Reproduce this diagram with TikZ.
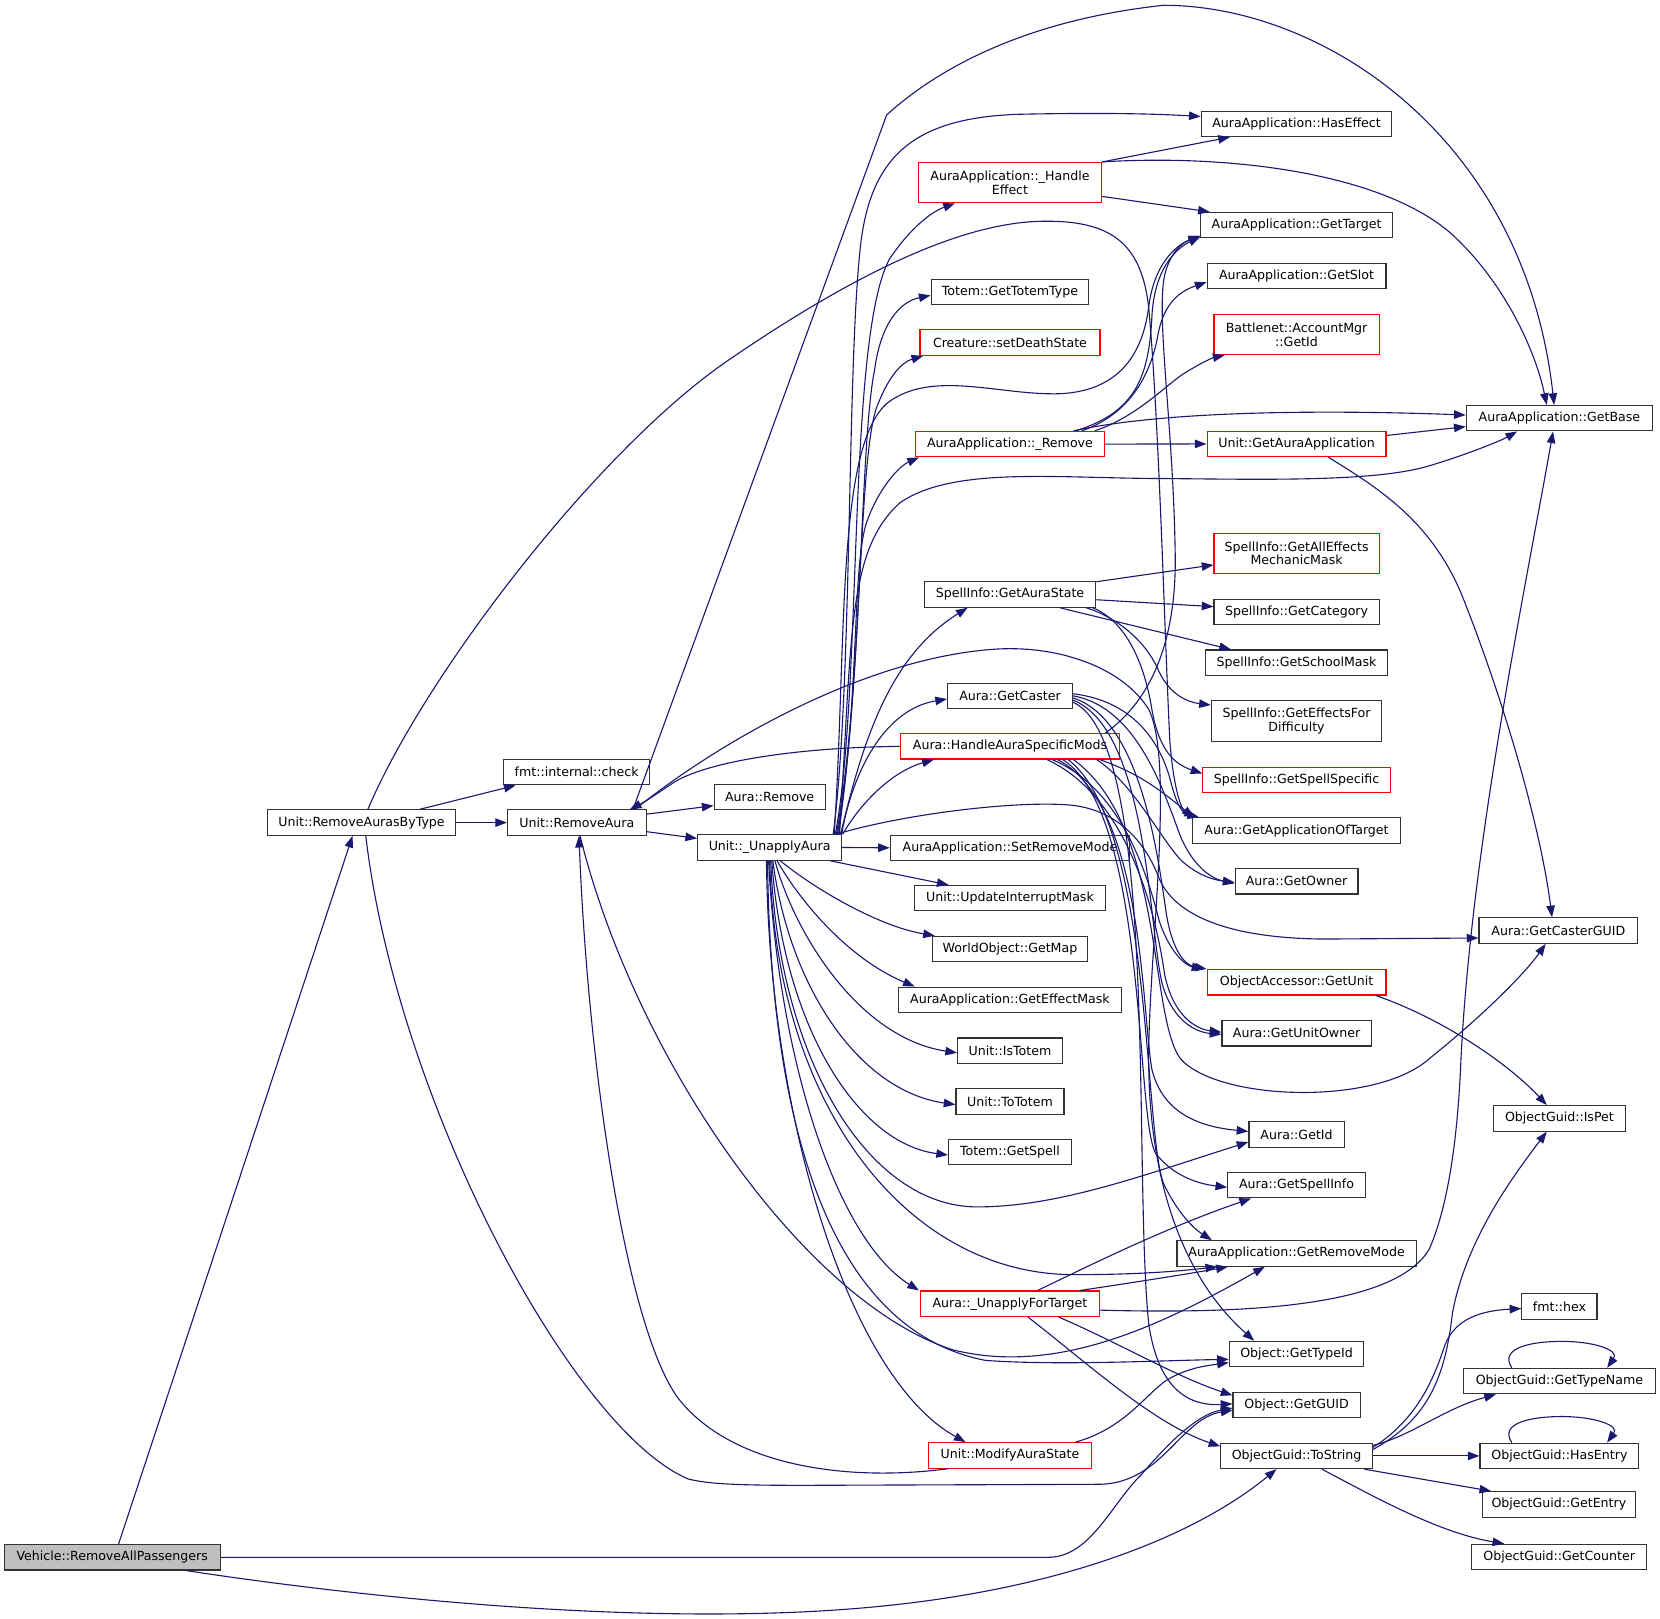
\documentclass[tikz,border=0pt]{standalone}
\usepackage{fontspec}
\setmainfont{DejaVu Sans}
\usetikzlibrary{arrows.meta}
\definecolor{edgeblue}{HTML}{191970}
\definecolor{boxline}{HTML}{333333}
\definecolor{redline}{HTML}{FF0000}
\definecolor{startfill}{HTML}{BFBFBF}
\tikzset{
  fn/.style={draw=boxline, line width=1.1pt, rectangle, inner sep=0pt, minimum height=24pt, font=\fontsize{11.9}{12.8}\selectfont, align=center},
  fnred/.style={fn, draw=redline},
  fntwo/.style={minimum height=38pt},
  e/.style={draw=edgeblue, line width=1.05pt, -{Triangle[length=11pt,width=8pt]}}
}
\begin{document}
\begin{tikzpicture}[x=1pt,y=-1pt]
\path[use as bounding box] (0,0) rectangle (1568,1529);
% nodes
\node[fn, fill=startfill, minimum width=204pt] (veh) at (106,1471) {Vehicle::RemoveAllPassengers};
\node[fn, minimum width=177pt] (rab) at (341.5,777) {Unit::RemoveAurasByType};
\node[fn, minimum width=138pt] (chk) at (544.7,729.3) {fmt::internal::check};
\node[fn, minimum width=131pt] (ra) at (544.9,777) {Unit::RemoveAura};
\node[fn, minimum width=105pt] (arem) at (727,753) {Aura::Remove};
\node[fn, minimum width=136pt] (ua) at (727,800.5) {Unit::\_UnapplyAura};
\node[fnred, fntwo, minimum width=173pt] (he) at (954,172.5) {AuraApplication::\_Handle\\Effect};
\node[fn, minimum width=149pt] (gtt) at (954,276) {Totem::GetTotemType};
\node[fnred, minimum width=170pt] (sds) at (954,323.6) {Creature::setDeathState};
\node[fnred, minimum width=178pt] (rem) at (954,419.5) {AuraApplication::\_Remove};
\node[fn, minimum width=162pt] (gas) at (954,561.5) {SpellInfo::GetAuraState};
\node[fn, minimum width=118pt] (gc) at (954,657.3) {Aura::GetCaster};
\node[fnred, minimum width=207pt] (hasm) at (954,705) {Aura::HandleAuraSpecificMods};
\node[fn, minimum width=226pt] (srm) at (954,800.8) {AuraApplication::SetRemoveMode};
\node[fn, minimum width=180pt] (uim) at (954,848.4) {Unit::UpdateInterruptMask};
\node[fn, minimum width=146pt] (gm) at (954,896.4) {WorldObject::GetMap};
\node[fn, minimum width=210pt] (gem) at (954,944.4) {AuraApplication::GetEffectMask};
\node[fn, minimum width=99pt] (it) at (954,992.5) {Unit::IsTotem};
\node[fn, minimum width=102pt] (tt) at (954,1040.4) {Unit::ToTotem};
\node[fn, minimum width=116pt] (gs) at (954,1088) {Totem::GetSpell};
\node[fnred, minimum width=169pt] (uft) at (954,1231.5) {Aura::\_UnapplyForTarget};
\node[fnred, minimum width=154pt] (mas) at (954,1374.7) {Unit::ModifyAuraState};
% right column
\node[fn, minimum width=180pt] (hef) at (1224.7,117) {AuraApplication::HasEffect};
\node[fn, minimum width=181pt] (gt) at (1224.7,212.7) {AuraApplication::GetTarget};
\node[fn, minimum width=169pt] (gsl) at (1224.7,260.5) {AuraApplication::GetSlot};
\node[fnred, fntwo, minimum width=156pt] (bn) at (1224.7,316) {Battlenet::AccountMgr\\::GetId};
\node[fnred, minimum width=169pt] (gaa) at (1224.7,419.3) {Unit::GetAuraApplication};
\node[fnred, fntwo, minimum width=156pt] (gaem) at (1224.7,522.6) {SpellInfo::GetAllEffects\\MechanicMask};
\node[fn, minimum width=156pt] (gcat) at (1224.7,578) {SpellInfo::GetCategory};
\node[fn, minimum width=172pt] (gsm) at (1224.7,626) {SpellInfo::GetSchoolMask};
\node[fn, fntwo, minimum width=161pt] (gefd) at (1224.7,681) {SpellInfo::GetEffectsFor\\Difficulty};
\node[fnred, minimum width=177pt] (gss) at (1224.7,736.6) {SpellInfo::GetSpellSpecific};
\node[fn, minimum width=196pt] (gaot) at (1224.7,784.5) {Aura::GetApplicationOfTarget};
\node[fn, minimum width=116pt] (gow) at (1224.7,832.5) {Aura::GetOwner};
\node[fnred, minimum width=169pt] (oag) at (1224.7,927.8) {ObjectAccessor::GetUnit};
\node[fn, minimum width=141pt] (guo) at (1224.7,976) {Aura::GetUnitOwner};
\node[fn, minimum width=90pt] (gid) at (1224.7,1071.7) {Aura::GetId};
\node[fn, minimum width=130pt] (gsi) at (1224.7,1119.5) {Aura::GetSpellInfo};
\node[fn, minimum width=226pt] (grm) at (1224.7,1184) {AuraApplication::GetRemoveMode};
\node[fn, minimum width=127pt] (gti) at (1224.7,1279) {Object::GetTypeId};
\node[fn, minimum width=120pt] (gg) at (1224.7,1327) {Object::GetGUID};
\node[fn, minimum width=143pt] (ts) at (1224.7,1375.2) {ObjectGuid::ToString};
% far right column
\node[fn, minimum width=176pt] (gb) at (1473,395) {AuraApplication::GetBase};
\node[fn, minimum width=150pt] (gcg) at (1472,879) {Aura::GetCasterGUID};
\node[fn, minimum width=124pt] (ip) at (1473,1056.4) {ObjectGuid::IsPet};
\node[fn, minimum width=71pt] (hex) at (1473,1234) {fmt::hex};
\node[fn, minimum width=181pt] (gtn) at (1473,1304.6) {ObjectGuid::GetTypeName};
\node[fn, minimum width=150pt] (hen) at (1473,1375.2) {ObjectGuid::HasEntry};
\node[fn, minimum width=145pt] (gen) at (1472.5,1421) {ObjectGuid::GetEntry};
\node[fn, minimum width=165pt] (gcn) at (1472.8,1470.7) {ObjectGuid::GetCounter};

% ---- edges ----
% Vehicle
\draw[e] ([xshift=6pt]veh.north) -- ([xshift=-8.5pt]rab.south);
\draw[e] (veh.east) -- (990,1471) .. controls (1030,1471) and (1050,1420) .. (1078,1393) .. controls (1102,1365) and (1130,1336) .. ([yshift=-3pt]gg.west);
\draw[e] ([xshift=70pt]veh.south) .. controls (350,1510) and (600,1535) .. (800,1520) .. controls (1000,1505) and (1130,1450) .. ([xshift=-19pt]ts.south);
% RemoveAurasByType
\draw[e] ([xshift=55pt]rab.north) -- ([xshift=-57.7pt]chk.south);
\draw[e] (rab.east) -- (ra.west);
\draw[e] ([xshift=6pt]rab.north) .. controls (400,640) and (560,430) .. (684,343) .. controls (790,270) and (900,210) .. (985,209) .. controls (1050,208) and (1078,230) .. (1085,290) .. controls (1095,400) and (1100,600) .. (1105,700) .. controls (1108,740) and (1115,765) .. ([xshift=-95pt]gaot.north);
\draw[e] ([xshift=4pt]rab.south) .. controls (375,1040) and (540,1350) .. (650,1397) .. controls (670,1402) and (700,1403) .. (760,1403) -- (1040,1402) .. controls (1098,1400) and (1115,1340) .. ([yshift=-5pt]gg.west);
% RemoveAura
\draw[e] ([yshift=8pt]ra.east) -- ([yshift=-8pt]arem.west);
\draw[e] ([yshift=-8.6pt]ra.east) -- ([yshift=8.6pt]ua.west);
\draw[e] ([xshift=53pt]ra.north) -- (837.5,108.6) .. controls (880,70) and (960,20) .. (1099,5) .. controls (1250,5) and (1440,130) .. ([xshift=-5pt]gb.north);
\draw[e] ([xshift=55pt]ra.north) .. controls (680,700) and (820,620) .. (943,613) .. controls (1000,610) and (1060,630) .. (1085,670) .. controls (1110,720) and (1085,900) .. (1085,1000) .. controls (1085,1100) and (1110,1200) .. ([xshift=-40pt]gti.north);
\draw[e] ([xshift=3pt]ra.south) .. controls (600,1000) and (760,1230) .. (900,1275) .. controls (1000,1300) and (1100,1250) .. ([xshift=-30pt]grm.south);
\draw[e] (hasm.west) .. controls (750,706) and (665,720) .. (635,740) .. controls (620,750) and (610,757) .. ([xshift=50pt]ra.north);
\draw[e] ([xshift=-58pt]mas.south) .. controls (800,1400) and (690,1385) .. (640,1320) .. controls (590,1250) and (555,1000) .. ([xshift=2pt]ra.south);
% _UnapplyAura upward bundle
\draw[e] ([xshift=60pt]ua.north) .. controls (805,650) and (800,360) .. (812,240) .. controls (820,150) and (860,112) .. (960,108) .. controls (1050,106) and (1100,108) .. ([yshift=7pt]hef.west);
\draw[e] ([xshift=62pt]ua.north) .. controls (815,650) and (800,320) .. (840,245) .. controls (860,215) and (880,200) .. ([xshift=-52pt]he.south);
\draw[e] ([xshift=63pt]ua.north) .. controls (815,650) and (812,420) .. (826,350) .. controls (832,305) and (850,285) .. ([yshift=-3pt]gtt.west);
\draw[e] ([xshift=64pt]ua.north) .. controls (815,650) and (810,420) .. (830,380) .. controls (840,355) and (852,342) .. ([xshift=-82pt]sds.south);
\draw[e] ([xshift=65pt]ua.north) .. controls (812,650) and (805,540) .. (818,495) .. controls (830,460) and (850,440) .. ([xshift=-86pt]rem.south);
\draw[e] ([xshift=61pt]ua.north) .. controls (800,600) and (790,420) .. (839,380) .. controls (880,350) and (940,372) .. (995,372) .. controls (1060,372) and (1080,330) .. (1085,290) .. controls (1090,250) and (1110,232) .. ([yshift=-10pt]gt.west);
\draw[e] ([xshift=66pt]ua.north) .. controls (805,600) and (800,520) .. (850,475) .. controls (900,440) and (1000,452) .. (1100,452) .. controls (1200,453) and (1300,455) .. (1350,440) .. controls (1390,428) and (1420,415) .. ([xshift=-40pt]gb.south);
\draw[e] ([xshift=67pt]ua.north) .. controls (815,700) and (840,620) .. ([xshift=-40pt]gas.south);
\draw[e] ([xshift=68pt]ua.north) .. controls (805,730) and (835,670) .. ([yshift=-3pt]gc.west);
\draw[e] ([xshift=69pt]ua.north) .. controls (815,755) and (845,728) .. ([xshift=-72pt]hasm.south);
\draw[e] ([xshift=63pt]ua.north) .. controls (850,770) and (950,757) .. (1005,760) .. controls (1050,762) and (1080,790) .. (1095,830) .. controls (1108,860) and (1150,886) .. (1250,887) -- ([yshift=-7pt]gcg.west);
\draw[e] (ua.east) -- (srm.west);
% _UnapplyAura downward fan
\draw[e] ([xshift=57pt]ua.south) -- ([xshift=-58pt]uim.north);
\draw[e] ([xshift=10pt]ua.south) .. controls (770,840) and (830,875) .. ([xshift=-71pt]gm.north);
\draw[e] ([xshift=7pt]ua.south) .. controls (755,850) and (800,905) .. ([xshift=-90pt]gem.north);
\draw[e] ([xshift=5pt]ua.south) .. controls (750,880) and (810,980) .. ([yshift=-2pt]it.west);
\draw[e] ([xshift=3pt]ua.south) .. controls (745,930) and (810,1030) .. ([yshift=-3pt]tt.west);
\draw[e] ([xshift=2pt]ua.south) .. controls (740,970) and (810,1080) .. ([yshift=-3pt]gs.west);
\draw[e] ([xshift=1pt]ua.south) .. controls (735,1000) and (820,1140) .. (923,1140) .. controls (1000,1140) and (1080,1110) .. ([yshift=-7pt]gid.west);
\draw[e] (ua.south) .. controls (733,1050) and (860,1205) .. (1016,1204) .. controls (1080,1204) and (1120,1200) .. ([xshift=-75pt]grm.south);
\draw[e] ([xshift=-1pt]ua.south) .. controls (735,1000) and (790,1170) .. ([xshift=-86pt]uft.north);
\draw[e] ([xshift=-2pt]ua.south) .. controls (728,1100) and (800,1260) .. (931,1285) .. controls (1000,1290) and (1100,1285) .. ([yshift=-5pt]gti.west);
\draw[e] ([xshift=-3pt]ua.south) .. controls (726,1050) and (800,1300) .. ([xshift=-42pt]mas.north);
% _HandleEffect
\draw[e] (he.north east) -- ([xshift=-63pt]hef.south);
\draw[e] (he.north east) .. controls (1150,146) and (1300,160) .. (1370,220) .. controls (1420,265) and (1450,330) .. ([xshift=-12pt]gb.north);
\draw[e] ([yshift=-13pt]he.east) -- ([xshift=-82pt]gt.north);
% _Remove
\draw[e] ([xshift=62pt]rem.north) .. controls (1070,390) and (1085,360) .. (1088,300) .. controls (1090,255) and (1110,235) .. ([yshift=-11pt]gt.west);
\draw[e] ([xshift=68pt]rem.north) .. controls (1070,390) and (1088,350) .. (1094,315) .. controls (1100,285) and (1115,275) .. ([yshift=-6pt]gsl.west);
\draw[e] ([xshift=80pt]rem.north) .. controls (1070,395) and (1095,370) .. (1115,355) .. controls (1130,345) and (1145,338) .. ([xshift=-68pt]bn.south);
\draw[e] (rem.east) -- (gaa.west);
\draw[e] ([xshift=60pt]rem.north) .. controls (1100,388) and (1250,387) .. ([yshift=3pt]gb.west);
% GetAuraApplication
\draw[e] ([yshift=8pt]gaa.east) -- ([yshift=-8pt]gb.west);
\draw[e] ([xshift=30pt]gaa.south) .. controls (1300,460) and (1350,490) .. (1380,560) .. controls (1420,660) and (1455,780) .. ([xshift=-6pt]gcg.north);
% GetAuraState
\draw[e] ([yshift=12pt]gas.east) -- ([yshift=-11pt]gaem.west);
\draw[e] ([yshift=-5pt]gas.east) -- ([yshift=5pt]gcat.west);
\draw[e] ([xshift=47pt]gas.south) -- ([xshift=-62pt]gsm.north);
\draw[e] ([xshift=72pt]gas.south) .. controls (1060,585) and (1085,610) .. (1095,635) .. controls (1105,655) and (1120,663) .. ([yshift=15pt]gefd.west);
\draw[e] ([xshift=78pt]gas.south) .. controls (1060,585) and (1080,620) .. (1088,670) .. controls (1095,710) and (1110,722) .. ([yshift=6pt]gss.west);
% GetCaster
\draw[e] ([yshift=2pt]gc.east) .. controls (1070,662) and (1095,700) .. (1105,735) .. controls (1110,755) and (1115,768) .. ([xshift=-92pt]gaot.north);
\draw[e] (gc.east) .. controls (1075,668) and (1100,750) .. (1115,790) .. controls (1128,820) and (1145,830) .. ([yshift=-2pt]gow.west);
\draw[e] ([yshift=-2pt]gc.east) .. controls (1080,680) and (1095,820) .. (1102,865) .. controls (1108,900) and (1120,912) .. ([xshift=-85pt]oag.north);
\draw[e] ([yshift=-4pt]gc.east) .. controls (1085,690) and (1085,880) .. (1098,930) .. controls (1108,965) and (1130,975) .. ([yshift=-1pt]guo.west);
\draw[e] ([yshift=-6pt]gc.east) .. controls (1095,700) and (1070,1100) .. (1085,1250) .. controls (1095,1320) and (1130,1328) .. ([yshift=1pt]gg.west);
% HandleAuraSpecificMods
\draw[e] ([xshift=90pt]hasm.north) .. controls (1090,660) and (1112,600) .. (1110,520) .. controls (1108,400) and (1092,300) .. (1100,260) .. controls (1105,240) and (1115,230) .. ([yshift=-10pt]gt.west);
\draw[e] ([xshift=85pt]hasm.south) .. controls (1080,732) and (1100,750) .. ([xshift=-97pt]gaot.north);
\draw[e] ([xshift=82pt]hasm.south) .. controls (1070,740) and (1095,790) .. (1115,812) .. controls (1130,826) and (1145,831) .. ([yshift=-1pt]gow.west);
\draw[e] ([xshift=35pt]hasm.south) .. controls (1060,750) and (1090,850) .. (1100,920) .. controls (1108,960) and (1130,972) .. ([yshift=1pt]guo.west);
\draw[e] ([xshift=40pt]hasm.south) .. controls (1060,745) and (1085,830) .. (1095,870) .. controls (1105,900) and (1120,912) .. ([xshift=-88pt]oag.north);
\draw[e] ([xshift=45pt]hasm.south) .. controls (1080,760) and (1078,950) .. (1088,1010) .. controls (1098,1050) and (1130,1064) .. ([yshift=3pt]gid.west);
\draw[e] ([xshift=50pt]hasm.south) .. controls (1085,770) and (1072,1060) .. (1092,1090) .. controls (1108,1110) and (1130,1118) .. ([yshift=-2pt]gsi.west);
\draw[e] ([xshift=55pt]hasm.south) .. controls (1090,780) and (1080,1080) .. (1100,1120) .. controls (1115,1150) and (1130,1162) .. ([xshift=-80pt]grm.north);
\draw[e] ([xshift=60pt]hasm.south) .. controls (1100,780) and (1085,960) .. (1115,1000) .. controls (1150,1040) and (1300,1045) .. (1350,1000) .. controls (1400,960) and (1440,920) .. ([xshift=-12pt]gcg.south);
% _UnapplyForTarget
\draw[e] ([xshift=26pt]uft.north) .. controls (1030,1195) and (1100,1160) .. ([xshift=-43pt]gsi.south);
\draw[e] ([xshift=66pt]uft.north) .. controls (1080,1210) and (1130,1202) .. ([xshift=-65pt]grm.south);
\draw[e] ([yshift=-6pt]uft.east) .. controls (1200,1242) and (1320,1230) .. (1350,1180) .. controls (1372,1130) and (1378,1050) .. (1380,1000) .. controls (1390,800) and (1440,560) .. ([xshift=-6pt]gb.south);
\draw[e] ([xshift=46pt]uft.south) .. controls (1060,1270) and (1110,1300) .. ([yshift=9pt]gg.west);
\draw[e] ([xshift=17pt]uft.south) .. controls (1030,1290) and (1090,1345) .. ([yshift=9pt]ts.west);
% ModifyAuraState
\draw[e] ([xshift=62pt]mas.north) .. controls (1060,1350) and (1080,1320) .. (1100,1305) .. controls (1120,1292) and (1140,1290) .. ([yshift=-8pt]gti.west);
% ObjectAccessor::GetUnit
\draw[e] ([xshift=75pt]oag.south) .. controls (1370,965) and (1430,1010) .. ([xshift=-12pt]ip.north);
% ToString
\draw[e] ([yshift=8pt]ts.east) .. controls (1340,1340) and (1355,1300) .. (1365,1270) .. controls (1375,1245) and (1400,1238) .. ([yshift=-2pt]hex.west);
\draw[e] ([yshift=6pt]ts.east) .. controls (1350,1340) and (1365,1300) .. (1372,1240) .. controls (1385,1170) and (1430,1110) .. ([xshift=-12pt]ip.south);
\draw[e] ([yshift=10pt]ts.east) .. controls (1330,1358) and (1365,1330) .. ([xshift=-60pt]gtn.south);
\draw[e] (ts.east) -- (hen.west);
\draw[e] ([xshift=64pt]ts.south) -- ([xshift=-64pt]gen.north);
\draw[e] ([xshift=24pt]ts.south) .. controls (1300,1415) and (1360,1448) .. ([xshift=-52pt]gcn.north);
% self loops
\draw[e] ([xshift=-45pt]gtn.north) .. controls (1415,1272) and (1450,1267) .. (1475,1267) .. controls (1505,1267) and (1530,1275) .. ([xshift=45pt]gtn.north);
\draw[e] ([xshift=-45pt]hen.north) .. controls (1415,1343) and (1450,1338) .. (1475,1338) .. controls (1505,1338) and (1530,1346) .. ([xshift=45pt]hen.north);
\end{tikzpicture}
\end{document}
